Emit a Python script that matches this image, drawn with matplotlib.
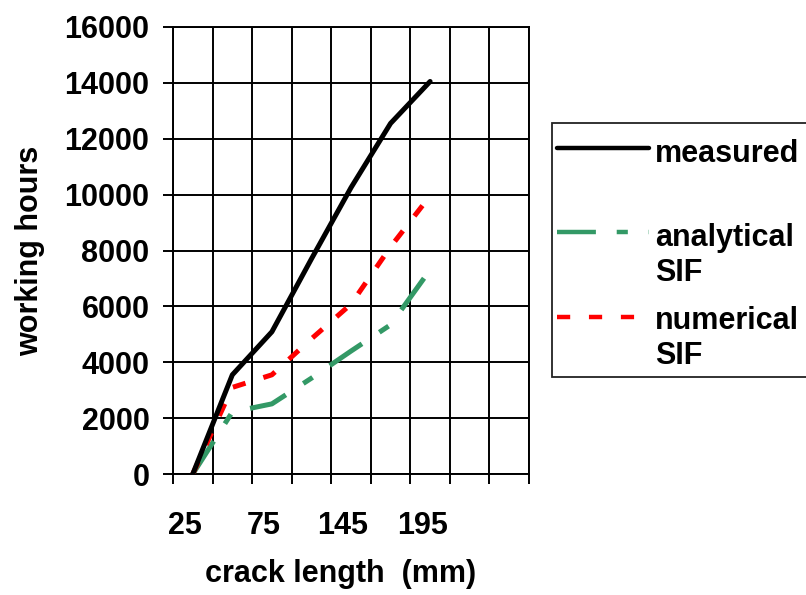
import matplotlib
matplotlib.use("Agg")
import matplotlib.pyplot as plt
from matplotlib.lines import Line2D
from matplotlib.patches import Rectangle
import numpy as np

# ---------------------------------------------------------
# data
# ---------------------------------------------------------
crack_labels = ["25", "", "75", "", "145", "", "195", "", ""]
measured = [0, 3550, 5090, 7700, 10250, 12550, 14050]
analytical = [0, 2220, 2510, 3430, 4400, 5340, 7310]
numerical = [0, 3100, 3550, 4840, 6080, 8130, 9960]
y_ticks = [0, 2000, 4000, 6000, 8000, 10000, 12000, 14000, 16000]

plt.rcParams["font.family"] = ["Liberation Sans", "DejaVu Sans"]
plt.rcParams["font.weight"] = "bold"
plt.rcParams["lines.scale_dashes"] = False

W, H = 806, 595
FS = 22
fig = plt.figure(figsize=(W / 100, H / 100), dpi=100)
ax = fig.add_axes([173 / W, 1 - 474 / H, (529 - 173) / W, (474 - 27) / H])

green = "#339966"
red = "#ff0000"
green_dash = (0, (28, 15, 8, 15))
red_dash = (0, (9.5, 13.5))

x = np.arange(len(measured)) + 0.5
ax.plot(x, measured, color="black", lw=3.6, solid_capstyle="round",
        solid_joinstyle="round", zorder=5)
ax.plot(x, analytical, color=green, lw=3.6, linestyle=green_dash, zorder=4)
ax.plot(x, numerical, color=red, lw=3.6, linestyle=red_dash, zorder=4)

ax.set_xlim(0, len(crack_labels))
ax.set_ylim(0, 16000)

# category axis: tick marks on boundaries, labels near the centres
ax.set_xticks(np.arange(len(crack_labels) + 1))
ax.set_xticklabels([])
ax.set_xticks(np.arange(len(crack_labels)) + 0.3, minor=True)
ax.set_xticklabels(crack_labels, minor=True)
ax.tick_params(axis="x", which="major", direction="out", length=7,
               width=1.4, color="black")
ax.tick_params(axis="x", which="minor", length=0, pad=27, labelsize=FS)

ax.set_yticks(y_ticks)
ax.set_yticklabels([str(v) for v in y_ticks])
ax.tick_params(axis="y", direction="out", length=7, width=1.4, pad=10,
               labelsize=FS)

ax.grid(True, which="major", color="black", lw=1.4)
ax.set_axisbelow(True)
for s in ax.spines.values():
    s.set_color("black")
    s.set_linewidth(1.4)

ax.set_ylabel("working hours", fontsize=FS, fontweight="bold")
ax.yaxis.set_label_coords(-0.36, 0.5)
ax.set_xlabel("crack length  (mm)", fontsize=FS, fontweight="bold")
ax.xaxis.set_label_coords(0.47, -0.19)
ax.xaxis.label.set_va("top")

# ---------------------------------------------------------
# legend (Excel style, handle on the first text line)
# ---------------------------------------------------------
def fx(px):
    return px / W

def fy(py):
    return 1 - py / H

fig.add_artist(Rectangle((fx(552), fy(377)), fx(900) - fx(552),
                         fy(123) - fy(377), transform=fig.transFigure,
                         facecolor="white", edgecolor="#222222", lw=1.3))

entries = [
    ("black", "-", 148, ["measured"], [162]),
    (green, green_dash, 232, ["analytical", "SIF"], [246, 281]),
    (red, red_dash, 317, ["numerical", "SIF"], [329, 364]),
]
for col, ls, hy, lines, bases in entries:
    fig.add_artist(Line2D([fx(557), fx(649)], [fy(hy), fy(hy)],
                          transform=fig.transFigure, color=col, lw=3.2,
                          linestyle=ls, solid_capstyle="round"))
    for txt, b in zip(lines, bases):
        fig.text(fx(655), fy(b), txt, fontsize=FS, fontweight="bold",
                 va="baseline", ha="left")

fig.savefig("out.png", dpi=100)
